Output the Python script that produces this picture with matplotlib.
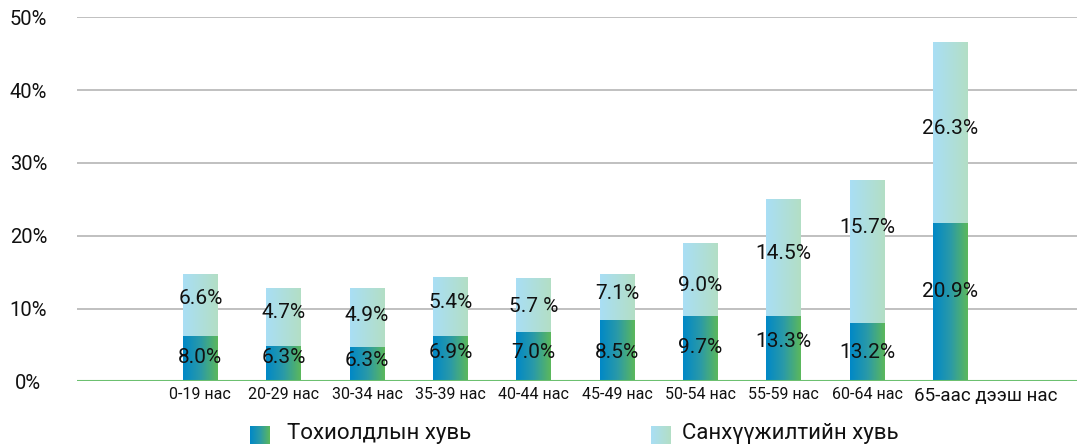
import matplotlib
matplotlib.use("Agg")
import matplotlib.pyplot as plt
import matplotlib.transforms as mtransforms
from matplotlib.colors import LinearSegmentedColormap
import numpy as np

plt.rcParams['font.family'] = ['Roboto', 'DejaVu Sans']

# age groups
categories = ["0-19 нас", "20-29 нас", "30-34 нас", "35-39 нас", "40-44 нас",
              "45-49 нас", "50-54 нас", "55-59 нас", "60-64 нас", "65-аас дээш нас"]

# bar heights as drawn (percent)
incidence = [6.2, 4.85, 4.7, 6.2, 6.8, 8.4, 9.0, 9.0, 8.0, 21.7]
funding = [8.5, 7.95, 8.1, 8.0, 7.4, 6.3, 10.0, 16.0, 19.6, 24.8]

# value labels as printed on the chart
incidence_labels = ["8.0%", "6.3%", "6.3%", "6.9%", "7.0%", "8.5%", "9.7%", "13.3%", "13.2%", "20.9%"]
funding_labels = ["6.6%", "4.7%", "4.9%", "5.4%", "5.7 %", "7.1%", "9.0%", "14.5%", "15.7%", "26.3%"]

# where the labels sit (data units)
incidence_label_y = [3.3, 3.3, 2.9, 3.9, 3.9, 3.9, 4.6, 5.5, 3.9, 12.4]
funding_label_y = [11.4, 9.5, 9.0, 10.8, 10.3, 12.1, 13.2, 17.5, 21.1, 34.7]

series_names = ["Тохиолдлын хувь", "Санхүүжилтийн хувь"]

cmap_dark = LinearSegmentedColormap.from_list("dark", ["#0088c7", "#2a9aa8", "#5cb85b"])
cmap_light = LinearSegmentedColormap.from_list("light", ["#a9def5", "#b3dfc5"])
grad = np.linspace(0, 1, 256).reshape(1, -1)

fig = plt.figure(figsize=(10.77, 4.44), dpi=100)
ax = fig.add_axes([77 / 1077, 1 - 381.3 / 444, 1 - 77 / 1077, 364 / 444])

x = np.arange(len(categories))
b1 = ax.bar(x, incidence, width=0.42, color='none', linewidth=0)
b2 = ax.bar(x, funding, width=0.42, bottom=incidence, color='none', linewidth=0)

# gradient fill for each bar
for bars, cm in [(b1, cmap_dark), (b2, cmap_light)]:
    for p in bars.patches:
        x0 = p.get_x()
        y0 = p.get_y()
        ax.imshow(grad, cmap=cm, aspect='auto', zorder=3, interpolation='bilinear',
                  extent=[x0, x0 + p.get_width(), y0, y0 + p.get_height()])

for i in range(len(categories)):
    ax.text(x[i], incidence_label_y[i], incidence_labels[i], ha='center', va='center',
            fontsize=15, color='#111111', zorder=5)
    ax.text(x[i], funding_label_y[i], funding_labels[i], ha='center', va='center',
            fontsize=15, color='#111111', zorder=5)

ax.set_xlim(-1.48, 10.52)
ax.set_ylim(0, 50)
ax.set_yticks([0, 10, 20, 30, 40, 50])
ax.set_yticklabels(["0%", "10%", "20%", "30%", "40%", "50%"], fontsize=14.5, color='#111111')
for lab in ax.get_yticklabels():
    lab.set_horizontalalignment('center')
ax.tick_params(axis='y', length=0, pad=35)

ax.set_xticks(x)
ax.set_xticklabels(categories, fontsize=11.5, color='#111111')
ax.tick_params(axis='x', length=0, pad=4)
# last label is larger and sits a bit to the right
last = ax.get_xticklabels()[-1]
last.set_fontsize(13.5)
last.set_transform(last.get_transform() + mtransforms.ScaledTranslation(35 / 100, 0, fig.dpi_scale_trans))

for s in ax.spines.values():
    s.set_visible(False)
for v in [10, 20, 30, 40, 50]:
    ax.axhline(v, color='#c0c0c0', linewidth=1.4, zorder=1)
ax.axhline(0, color='#6cc070', linewidth=1.5, zorder=4)

# legend drawn by hand so the swatches keep the gradient
for px, gap, name, cm in [(250, 37, series_names[0], cmap_dark), (651, 31, series_names[1], cmap_light)]:
    sw = fig.add_axes([px / 1077, 0, 20 / 1077, 18 / 444])
    sw.imshow(grad, cmap=cm, aspect='auto', interpolation='bilinear')
    sw.axis('off')
    fig.text((px + gap) / 1077, 1 - 433 / 444, name, fontsize=16, color='#111111',
             ha='left', va='center')

fig.savefig("out.png", dpi=100)
